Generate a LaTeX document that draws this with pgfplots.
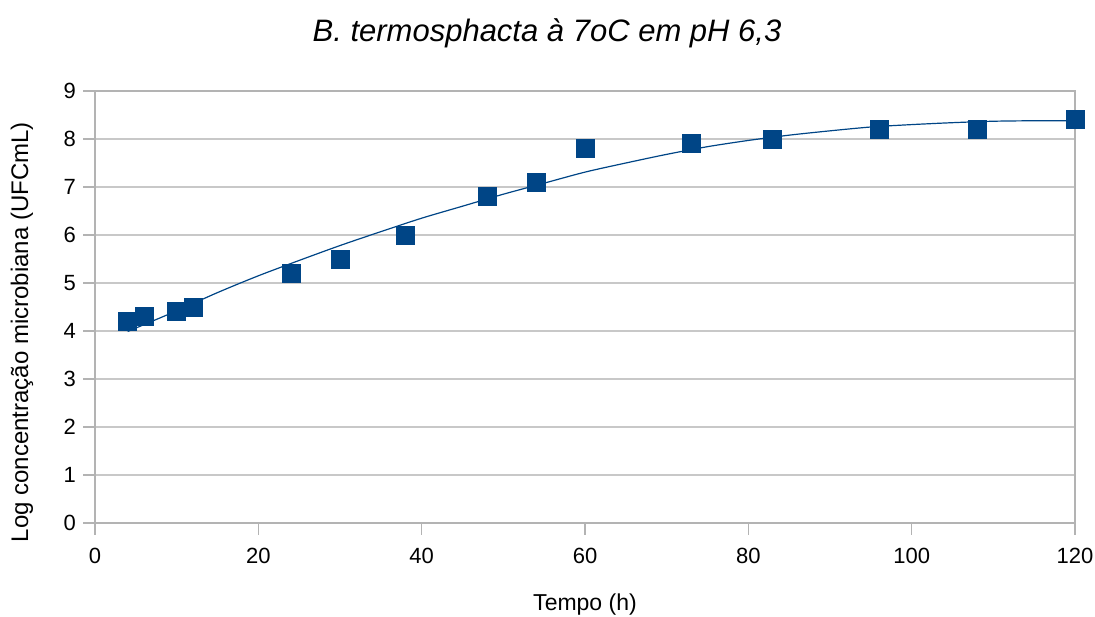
\documentclass[border=0pt]{standalone}
\usepackage{pgfplots}
\pgfplotsset{compat=1.18}
\usepackage{fontspec}
\setmainfont{Liberation Sans}
\definecolor{ser}{HTML}{004586}
\definecolor{gr}{HTML}{B3B3B3}
\definecolor{grl}{HTML}{C8C8C8}
\begin{document}
\begin{tikzpicture}
\begin{axis}[
  scale only axis, width=490pt, height=216pt,
  xmin=0, xmax=120, ymin=0, ymax=9,
  xtick={0,20,...,120}, ytick={0,1,...,9},
  ymajorgrids, grid style={grl, line width=0.7pt},
  axis line style={gr, line width=0.9pt},
  tick style={gr, line width=0.8pt},
  tick align=outside, major tick length=6pt, tick pos=left,
  /pgf/number format/assume math mode=true,
  ticklabel style={font=\fontsize{11}{12}\selectfont},
  xticklabel style={yshift=-3pt},
  yticklabel style={xshift=0pt},
  title={\itshape B. termosphacta à 7oC em pH 6,3},
  title style={at={(axis description cs:0.5,1)}, anchor=center, xshift=-19pt, yshift=23pt, font=\fontsize{15.5}{18}\selectfont},
  xlabel={Tempo (h)},
  xlabel style={at={(axis description cs:0.5,0)}, anchor=center, yshift=-41pt, font=\fontsize{11.5}{13}\selectfont},
  ylabel={Log concentração microbiana (UFCmL)},
  ylabel style={at={(axis description cs:-0.0745,0.442)}, anchor=center, font=\fontsize{12}{14}\selectfont},
]
\addplot[ser, line width=0.6pt, smooth, no marks] coordinates {
(4,3.99) (10,4.42) (15,4.80) (20,5.15) (25,5.47) (30,5.78) (35,6.07)
(40,6.35) (45,6.60) (50,6.85) (55,7.08) (60,7.31) (65,7.50) (70,7.68) (75,7.84)
(80,7.97) (85,8.08) (90,8.17) (95,8.25) (100,8.30) (105,8.34) (110,8.37) (115,8.38) (120,8.38)
};
\addplot[only marks, mark=square*, mark size=4.5pt, mark options={fill=ser, draw=ser}] coordinates {
(4,4.2) (6,4.3) (10,4.4) (12,4.5) (24,5.2) (30,5.5) (38,6.0) (48,6.8) (54,7.1)
(60,7.8) (73,7.9) (83,8.0) (96,8.2) (108,8.2) (120,8.4)
};
\end{axis}
\pgfresetboundingbox
\path ([shift={(-47.5pt,-47pt)}]current axis.south west) rectangle ([shift={(10pt,45.5pt)}]current axis.north east);
\end{tikzpicture}
\end{document}
